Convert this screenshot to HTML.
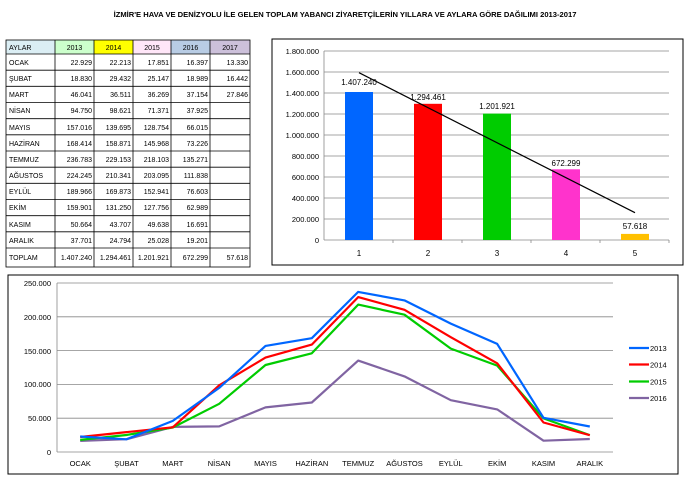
<!DOCTYPE html>
<html><head><meta charset="utf-8"><style>
body{margin:0;background:#fff;width:685px;height:484px;overflow:hidden;font-family:"Liberation Sans",sans-serif}
svg{position:absolute;left:0;top:0}
text{font-family:"Liberation Sans",sans-serif}
</style></head><body>
<svg width="685" height="484" viewBox="0 0 685 484">
<text x="345" y="17" font-size="7.6" font-weight="bold" text-anchor="middle">İZMİR'E HAVA VE DENİZYOLU İLE GELEN TOPLAM YABANCI ZİYARETÇİLERİN YILLARA VE AYLARA GÖRE DAĞILIMI 2013-2017</text>

<!-- table -->
<g font-size="7">
<rect x="6" y="40" width="49" height="14" fill="#dbeef4"/>
<rect x="55" y="40" width="39" height="14" fill="#ccffcc"/>
<rect x="94" y="40" width="39" height="14" fill="#ffff00"/>
<rect x="133" y="40" width="38" height="14" fill="#ffe6f8"/>
<rect x="171" y="40" width="39" height="14" fill="#b8cce4"/>
<rect x="210" y="40" width="40" height="14" fill="#ccc0da"/>
<g stroke="#000" stroke-width="0.8" fill="none">
<rect x="6" y="40" width="244" height="227"/>
<line x1="55" y1="40" x2="55" y2="267"/><line x1="94" y1="40" x2="94" y2="267"/><line x1="133" y1="40" x2="133" y2="267"/><line x1="171" y1="40" x2="171" y2="267"/><line x1="210" y1="40" x2="210" y2="267"/>
<line x1="6" y1="54" x2="250" y2="54"/><line x1="6" y1="70.2" x2="250" y2="70.2"/><line x1="6" y1="86.3" x2="250" y2="86.3"/><line x1="6" y1="102.5" x2="250" y2="102.5"/><line x1="6" y1="118.7" x2="250" y2="118.7"/><line x1="6" y1="134.8" x2="250" y2="134.8"/><line x1="6" y1="151" x2="250" y2="151"/><line x1="6" y1="167.2" x2="250" y2="167.2"/><line x1="6" y1="183.3" x2="250" y2="183.3"/><line x1="6" y1="199.5" x2="250" y2="199.5"/><line x1="6" y1="215.7" x2="250" y2="215.7"/><line x1="6" y1="231.8" x2="250" y2="231.8"/><line x1="6" y1="248" x2="250" y2="248"/>
</g>
<g>
<text x="9" y="50">AYLAR</text><text x="74.5" y="50" text-anchor="middle">2013</text><text x="113.5" y="50" text-anchor="middle">2014</text><text x="152" y="50" text-anchor="middle">2015</text><text x="190.5" y="50" text-anchor="middle">2016</text><text x="230" y="50" text-anchor="middle">2017</text>
</g>
<g>
<text x="9" y="65">OCAK</text><text x="9" y="81">ŞUBAT</text><text x="9" y="97">MART</text><text x="9" y="113">NİSAN</text><text x="9" y="130">MAYIS</text><text x="9" y="146">HAZİRAN</text><text x="9" y="162">TEMMUZ</text><text x="9" y="178">AĞUSTOS</text><text x="9" y="194">EYLÜL</text><text x="9" y="210">EKİM</text><text x="9" y="227">KASIM</text><text x="9" y="243">ARALIK</text><text x="9" y="260">TOPLAM</text>
</g>
<g text-anchor="end">
<text x="92" y="65">22.929</text><text x="92" y="81">18.830</text><text x="92" y="97">46.041</text><text x="92" y="113">94.750</text><text x="92" y="130">157.016</text><text x="92" y="146">168.414</text><text x="92" y="162">236.783</text><text x="92" y="178">224.245</text><text x="92" y="194">189.966</text><text x="92" y="210">159.901</text><text x="92" y="227">50.664</text><text x="92" y="243">37.701</text><text x="92" y="260">1.407.240</text>
<text x="131" y="65">22.213</text><text x="131" y="81">29.432</text><text x="131" y="97">36.511</text><text x="131" y="113">98.621</text><text x="131" y="130">139.695</text><text x="131" y="146">158.871</text><text x="131" y="162">229.153</text><text x="131" y="178">210.341</text><text x="131" y="194">169.873</text><text x="131" y="210">131.250</text><text x="131" y="227">43.707</text><text x="131" y="243">24.794</text><text x="131" y="260">1.294.461</text>
<text x="169" y="65">17.851</text><text x="169" y="81">25.147</text><text x="169" y="97">36.269</text><text x="169" y="113">71.371</text><text x="169" y="130">128.754</text><text x="169" y="146">145.968</text><text x="169" y="162">218.103</text><text x="169" y="178">203.095</text><text x="169" y="194">152.941</text><text x="169" y="210">127.756</text><text x="169" y="227">49.638</text><text x="169" y="243">25.028</text><text x="169" y="260">1.201.921</text>
<text x="208" y="65">16.397</text><text x="208" y="81">18.989</text><text x="208" y="97">37.154</text><text x="208" y="113">37.925</text><text x="208" y="130">66.015</text><text x="208" y="146">73.226</text><text x="208" y="162">135.271</text><text x="208" y="178">111.838</text><text x="208" y="194">76.603</text><text x="208" y="210">62.989</text><text x="208" y="227">16.691</text><text x="208" y="243">19.201</text><text x="208" y="260">672.299</text>
<text x="248" y="65">13.330</text><text x="248" y="81">16.442</text><text x="248" y="97">27.846</text><text x="248" y="260">57.618</text>
</g>
</g>

<!-- bar chart -->
<rect x="272" y="39" width="411" height="226" fill="#fff" stroke="#000" stroke-width="1"/>
<g stroke="#888" stroke-width="0.8">
<line x1="324" y1="51" x2="669" y2="51"/><line x1="324" y1="72" x2="669" y2="72"/><line x1="324" y1="93" x2="669" y2="93"/><line x1="324" y1="114" x2="669" y2="114"/><line x1="324" y1="135" x2="669" y2="135"/><line x1="324" y1="156" x2="669" y2="156"/><line x1="324" y1="177" x2="669" y2="177"/><line x1="324" y1="198" x2="669" y2="198"/><line x1="324" y1="219" x2="669" y2="219"/>
<line x1="324" y1="51" x2="324" y2="240"/><line x1="324" y1="240" x2="669" y2="240"/>
<line x1="393" y1="240" x2="393" y2="243"/><line x1="462" y1="240" x2="462" y2="243"/><line x1="531" y1="240" x2="531" y2="243"/><line x1="600" y1="240" x2="600" y2="243"/><line x1="669" y1="240" x2="669" y2="243"/>
</g>
<g font-size="7.5" text-anchor="end">
<text x="319" y="54">1.800.000</text><text x="319" y="75">1.600.000</text><text x="319" y="96">1.400.000</text><text x="319" y="117">1.200.000</text><text x="319" y="138">1.000.000</text><text x="319" y="159">800.000</text><text x="319" y="180">600.000</text><text x="319" y="201">400.000</text><text x="319" y="222">200.000</text><text x="319" y="243">0</text>
</g>
<rect x="345" y="92" width="28" height="148" fill="#0066ff"/>
<rect x="414" y="103.8" width="28" height="136.2" fill="#ff0000"/>
<rect x="483" y="113.6" width="28" height="126.4" fill="#00cc00"/>
<rect x="552" y="169.3" width="28" height="70.7" fill="#ff33cc"/>
<rect x="621" y="233.9" width="28" height="6.1" fill="#ffc000"/>
<g font-size="8" text-anchor="middle">
<text x="359" y="85">1.407.240</text><text x="428" y="100">1.294.461</text><text x="497" y="109">1.201.921</text><text x="566" y="166">672.299</text><text x="635" y="229">57.618</text>
<text x="359" y="256">1</text><text x="428" y="256">2</text><text x="497" y="256">3</text><text x="566" y="256">4</text><text x="635" y="256">5</text>
</g>
<line x1="359" y1="72.7" x2="635" y2="212.7" stroke="#000" stroke-width="1.2"/>

<!-- line chart -->
<rect x="8" y="275" width="670" height="199" fill="#fff" stroke="#000" stroke-width="1"/>
<g stroke="#888" stroke-width="0.8">
<line x1="57" y1="283" x2="613" y2="283"/><line x1="57" y1="316.8" x2="613" y2="316.8"/><line x1="57" y1="350.6" x2="613" y2="350.6"/><line x1="57" y1="384.4" x2="613" y2="384.4"/><line x1="57" y1="418.2" x2="613" y2="418.2"/>
<line x1="57" y1="283" x2="57" y2="452"/><line x1="57" y1="452" x2="613" y2="452"/>
</g>
<g font-size="7.5" text-anchor="end">
<text x="51" y="286">250.000</text><text x="51" y="320">200.000</text><text x="51" y="354">150.000</text><text x="51" y="387">100.000</text><text x="51" y="421">50.000</text><text x="51" y="455">0</text>
</g>
<g font-size="7.5" text-anchor="middle">
<text x="80.2" y="466">OCAK</text><text x="126.5" y="466">ŞUBAT</text><text x="172.8" y="466">MART</text><text x="219.2" y="466">NİSAN</text><text x="265.5" y="466">MAYIS</text><text x="311.8" y="466">HAZİRAN</text><text x="358.2" y="466">TEMMUZ</text><text x="404.5" y="466">AĞUSTOS</text><text x="450.8" y="466">EYLÜL</text><text x="497.2" y="466">EKİM</text><text x="543.5" y="466">KASIM</text><text x="589.8" y="466">ARALIK</text>
</g>
<g fill="none" stroke-width="2.2" stroke-linejoin="round">
<polyline stroke="#8064a2" points="80.2,440.9 126.5,439.2 172.8,426.9 219.2,426.4 265.5,407.4 311.8,402.5 358.2,360.6 404.5,376.4 450.8,400.2 497.2,409.4 543.5,440.7 589.8,439"/>
<polyline stroke="#00cc00" points="80.2,439.9 126.5,435 172.8,427.5 219.2,403.8 265.5,365 311.8,353.3 358.2,304.6 404.5,314.7 450.8,348.6 497.2,365.6 543.5,418.4 589.8,435.1"/>
<polyline stroke="#ff0000" points="80.2,437 126.5,432.1 172.8,427.3 219.2,385.3 265.5,357.6 311.8,344.6 358.2,297.1 404.5,309.8 450.8,337.2 497.2,363.3 543.5,422.5 589.8,435.2"/>
<polyline stroke="#0066ff" points="80.2,436.5 126.5,439.3 172.8,420.9 219.2,387.9 265.5,345.9 311.8,338.2 358.2,291.9 404.5,300.4 450.8,323.6 497.2,343.9 543.5,417.8 589.8,426.5"/>
</g>
<g stroke-width="2.2">
<line x1="629" y1="348" x2="649" y2="348" stroke="#0066ff"/>
<line x1="629" y1="364.5" x2="649" y2="364.5" stroke="#ff0000"/>
<line x1="629" y1="381.5" x2="649" y2="381.5" stroke="#00cc00"/>
<line x1="629" y1="398" x2="649" y2="398" stroke="#8064a2"/>
</g>
<g font-size="7.5">
<text x="650" y="351">2013</text><text x="650" y="367.5">2014</text><text x="650" y="384.5">2015</text><text x="650" y="401">2016</text>
</g>
</svg>
</body></html>
